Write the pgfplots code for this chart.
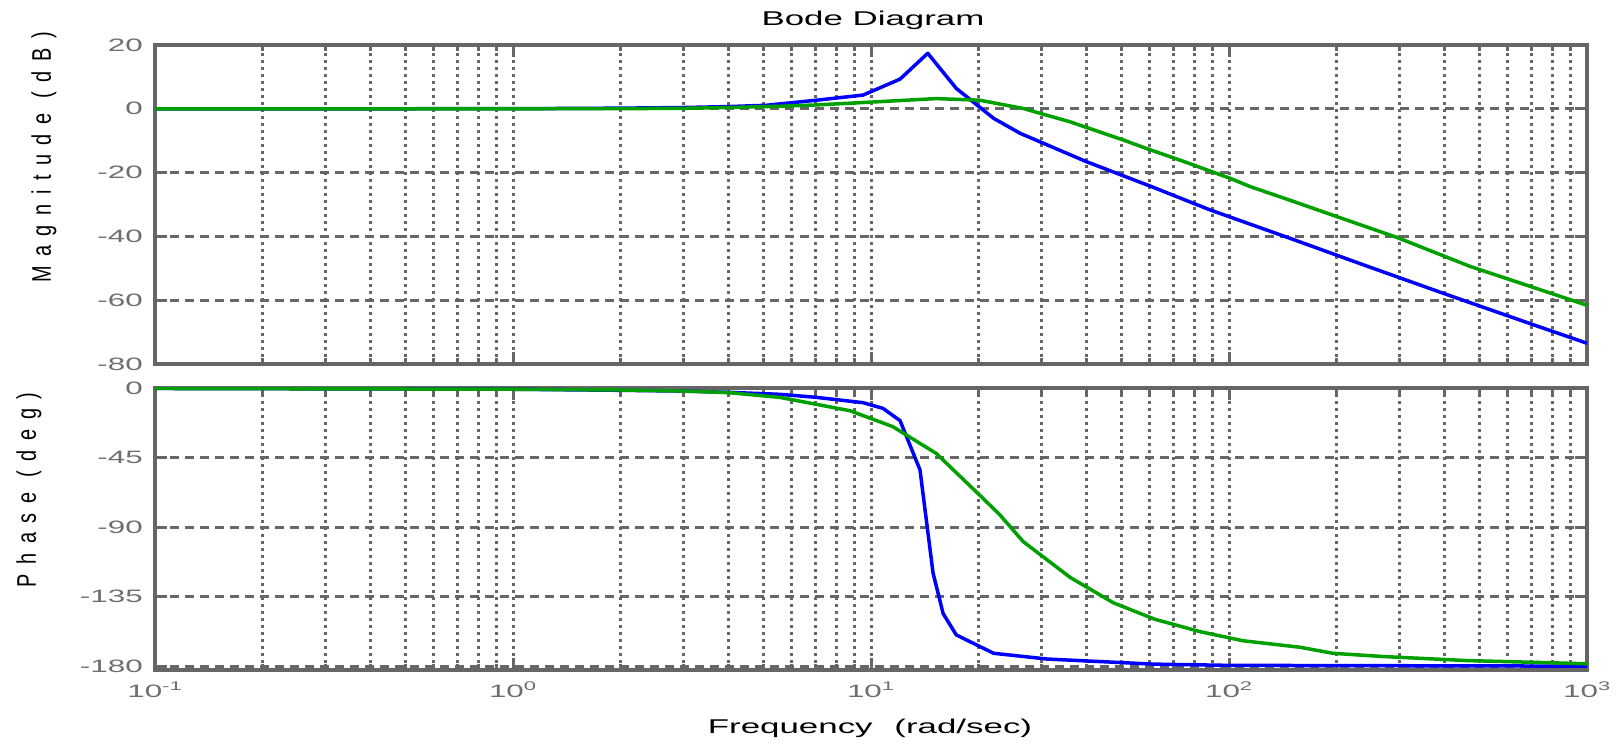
\documentclass[border=0pt]{standalone}
\usepackage{pgfplots}
\pgfplotsset{compat=1.18}
\usepackage{fontspec}
\setmainfont{Liberation Sans}
\usepackage{graphicx}
\definecolor{fr}{RGB}{102,102,102}
\definecolor{tlc}{RGB}{110,110,110}
\definecolor{bl}{RGB}{0,0,255}
\definecolor{gr}{RGB}{0,160,0}
\newcommand{\sx}[1]{\scalebox{1.75}[1]{#1}}
\newcommand{\dec}[1]{\sx{10\textsuperscript{#1}}}

\pgfplotsset{
  every axis grid/.style={fr, line width=3bp},
  every major x grid/.style={fr, line width=3bp, dash pattern=on 3bp off 4bp},
  every minor x grid/.style={fr, line width=3bp, dash pattern=on 3bp off 4bp},
  every major y grid/.style={fr, line width=3bp, dash pattern=on 9bp off 6bp},
  every axis/.append style={
  scale only axis, width=1432bp,
  axis line style={fr, line width=4bp},
  tick style={fr, line width=3bp},
  major tick length=12bp, minor tick length=6bp,
  tick align=inside,
  xmajorgrids, xminorgrids, ymajorgrids,
  ticklabel style={font=\fontsize{18}{20}\selectfont, text=tlc, inner sep=0pt},
  yticklabel style={xshift=-12bp},
  xticklabel style={yshift=-12bp},
}}

\begin{document}
\begin{tikzpicture}
\useasboundingbox (0,0) rectangle (1623bp,749bp);

% Magnitude
\begin{axis}[xmode=log, xmin=0.1, xmax=1000,
  xtick={0.1,1,10,100,1000},
  minor xtick={0.2,0.3,0.4,0.5,0.6,0.7,0.8,0.9,2,3,4,5,6,7,8,9,20,30,40,50,60,70,80,90,200,300,400,500,600,700,800,900},
  at={(155bp,385bp)}, anchor=south west, height=319bp,
  ymin=-80, ymax=20, ytick={-80,-60,-40,-20,0,20},
  yticklabels={\sx{-80},\sx{-60},\sx{-40},\sx{-20},\sx{0},\sx{20}},
  xticklabels={}]
\addplot[bl, line width=3.5bp, line join=round, mark=none] coordinates {
(0.1,0) (1,0.02) (2,0.2) (3,0.4) (4,0.7) (5.1,1.1) (7.05,2.7) (9.5,4.3)
(12.05,9.3) (14.4,17.4) (17.3,6.4) (22,-3) (26.1,-7.7) (40,-16.6)
(60.1,-24.2) (88.5,-31.7) (148,-40.6) (242.5,-49.3) (405,-58.2)
(708,-67.7) (1000,-73.5)};
\addplot[gr, line width=3.5bp, line join=round, mark=none] coordinates {
(0.1,0) (1,0) (2,0.05) (3,0.15) (4,0.4) (5.57,0.8) (7,1.2) (10.4,2.2)
(15.2,3.2) (20.1,2.7) (26.6,0.1) (36,-4.1) (50.7,-9.8) (60,-12.8)
(73,-16.1) (100.7,-21.8) (114.6,-24.4) (151,-29) (200,-33.8)
(294,-40.3) (471,-49.4) (1000,-61.6)};
\end{axis}

% Phase
\begin{axis}[xmode=log, xmin=0.1, xmax=1000,
  xtick={0.1,1,10,100,1000},
  minor xtick={0.2,0.3,0.4,0.5,0.6,0.7,0.8,0.9,2,3,4,5,6,7,8,9,20,30,40,50,60,70,80,90,200,300,400,500,600,700,800,900},
  at={(155bp,79bp)}, anchor=south west, height=282bp,
  ymin=-182.5, ymax=0, ytick={-180,-135,-90,-45,0},
  yticklabels={\sx{-180},\sx{-135},\sx{-90},\sx{-45},\sx{0}},
  xticklabels={\dec{-1},\dec{0},\dec{1},\dec{2},\dec{3}}]
\addplot[bl, line width=3.5bp, line join=round, mark=none] coordinates {
(0.1,-0.3) (1,-0.8) (2,-1.5) (3,-2) (4,-2.8) (5.57,-4.1) (7,-6) (9.5,-9.5)
(10.8,-13.2) (12.05,-21.1) (13.7,-53) (14.9,-119.7) (15.9,-146)
(17.3,-159.8) (22,-171.7) (28.3,-174.4) (31,-175.4) (61.5,-178.7)
(100,-179.5) (1000,-180)};
\addplot[gr, line width=3.5bp, line join=round, mark=none] coordinates {
(0.1,-0.3) (1,-0.8) (2,-1.3) (3,-2) (4,-3) (5.57,-6.1) (8.73,-14.7)
(11.5,-25) (15.2,-42.3) (20.1,-69.3) (22.9,-82.1) (26.6,-99.4)
(36,-122.6) (47.5,-139) (62.1,-149.7) (83,-157.7) (109.6,-163.6)
(158,-167.8) (195,-171.7) (270,-173.8) (461,-176.4) (789,-177.8)
(1000,-178.5)};
\end{axis}

\node[font=\fontsize{20}{22}\selectfont] at (873bp,729bp) {\sx{Bode Diagram}};
\node[anchor=base, font=\fontsize{20}{22}\selectfont] at (870bp,16bp) {\sx{Frequency\hspace{0.35em} (rad/sec)}};
\node[rotate=90, font=\fontsize{20}{22}\selectfont] at (44bp,591.5bp)
  {\scalebox{1}[1.35]{\addfontfeature{LetterSpace=48}Magnitude (dB)}};
\node[rotate=90, font=\fontsize{20}{22}\selectfont] at (29bp,259bp)
  {\scalebox{1}[1.35]{\addfontfeature{LetterSpace=48}Phase (deg)}};
\end{tikzpicture}
\end{document}
